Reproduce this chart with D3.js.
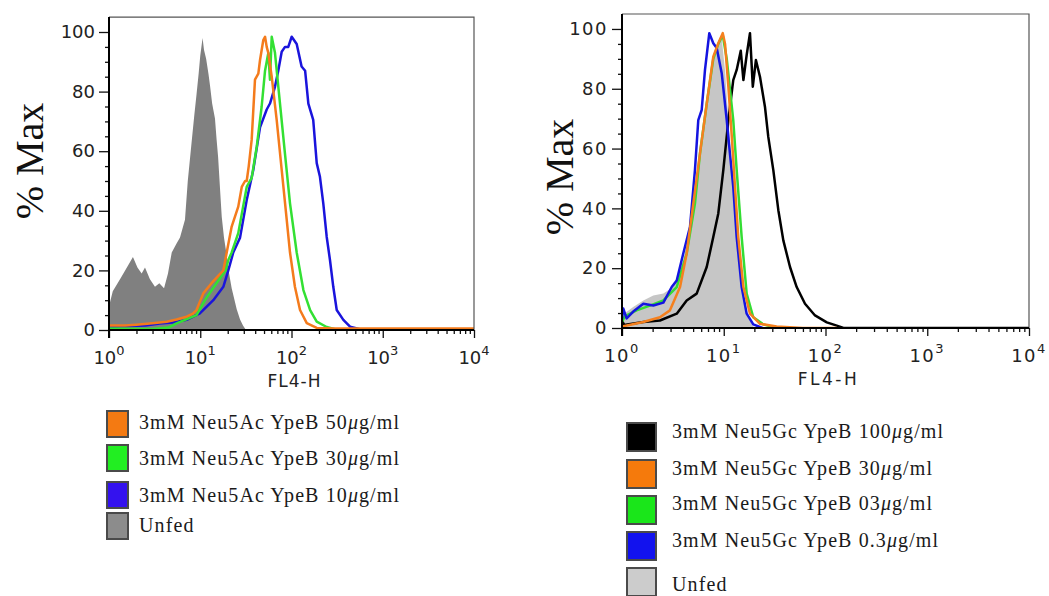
<!DOCTYPE html>
<html>
<head>
<meta charset="utf-8">
<script src="https://cdn.jsdelivr.net/npm/d3@7"></script>
<style>
    body { margin: 0; background: #fff; }
    svg { display: block; }
</style>
</head>
<body>
<svg id="chart" width="1049" height="596"></svg>
<script>
// ---- data ----
const xDecades = [1, 10, 100, 1000, 10000];
const yMajorTicks = [0, 20, 40, 60, 80, 100];
const xAxisTitle = "FL4-H";
const yAxisTitle = "% Max";

// left panel: Neu5Ac (FL4-H value, % Max)
const acUnfed = [[1.0, 8], [1.1, 13], [1.32, 17], [1.57, 21], [1.83, 24.5], [2.05, 21], [2.28, 19], [2.48, 21],
    [2.81, 17], [3.19, 14.5], [3.56, 15.7], [4.01, 14], [4.43, 19], [4.87, 26], [5.5, 29], [6.0, 31], [6.8, 37],
    [7.3, 50], [8.1, 64], [8.6, 72], [9.1, 79], [9.6, 86], [10.0, 92], [10.6, 98], [11.0, 94], [11.6, 91],
    [12.3, 86], [12.8, 82], [13.5, 76], [14.5, 71], [15.1, 64], [15.7, 58], [16.5, 47], [17.2, 38], [18.2, 31],
    [19.5, 25], [20.7, 19], [22.1, 14], [25.1, 7], [27.3, 3.5], [29.4, 1.5], [31.7, 0]];
const ac50 = [[1.0, 1.5], [1.5, 1.5], [2, 1.8], [3, 2.3], [4.3, 2.8], [5.5, 3.5], [7.1, 4.5], [8.3, 5.5], [9.1, 6.7],
    [10.8, 12.3], [13.3, 15.7], [17.9, 20], [19.5, 26], [22.1, 34.7], [26.1, 41.4], [28.5, 48], [31, 50], [32.3, 50],
    [34, 55], [36.6, 63.8], [39.8, 84], [41.5, 85], [43.3, 86], [45.2, 90.6], [49.1, 97.3], [51.3, 98.4], [53.5, 95],
    [55.7, 93], [60.7, 85], [68.8, 70.5], [78.1, 53.7], [88.6, 37], [96.3, 26], [109, 14.5], [124, 6.7], [147, 2.3],
    [189, 0.7], [300, 0.5], [10000, 0.5]];
const ac30 = [[1.0, 0.5], [3, 0.3], [4.5, 0.8], [5.5, 2.2], [9.1, 5], [11.8, 11], [15.1, 15.7], [19, 20], [20.3, 23.5],
    [22.1, 26], [26.1, 32.5], [32.3, 48], [35, 50], [36.6, 51], [41.6, 61.5], [47.1, 75], [51.3, 87], [55.7, 93],
    [58.1, 84], [60.7, 98.4], [65.9, 93], [74.8, 76], [84.9, 59], [96.3, 42.5], [114, 26], [135, 13.4], [160, 6.7],
    [189, 2.8], [243, 1], [320, 0], [600, 0]];
const ac10 = [[1.0, 1], [1.5, 1.3], [2.5, 1.5], [3.6, 2.2], [5, 2.5], [7.1, 3.4], [9.9, 5.6], [13.9, 10], [17.9, 14.5],
    [20.3, 20], [23.0, 26], [27.3, 31], [32.3, 43.6], [38.1, 53.7], [45.2, 68], [53.5, 74], [58.1, 76], [65.9, 81.6],
    [71.6, 87], [78.1, 93.4], [84.9, 95], [92.2, 95], [100.5, 98.4], [114, 96], [129, 88.4], [141, 87], [153, 76],
    [173, 70.5], [189, 56], [205, 51.4], [223, 42.5], [243, 31.3], [264, 23.5], [287, 14.5], [313, 6.7], [370, 3.4],
    [438, 1.1], [608, 0]];

// right panel: Neu5Gc
const gcUnfed = [[1.0, 3], [1.07, 5], [1.29, 7], [1.62, 9.2], [2.03, 10.9], [2.55, 11.5], [3.19, 13.7], [4.0, 22.6],
    [4.84, 36], [5.62, 52.8], [6.54, 69.5], [7.32, 83], [8.2, 92], [8.84, 95], [9.55, 97], [10.3, 86], [11.1, 69.5],
    [12.0, 52.8], [12.9, 36], [13.9, 22.6], [15.6, 10.3], [17.4, 3.6], [19.5, 0.5], [22, 0]];
const gc100 = [[1.0, 2.5], [1.05, 1], [1.62, 2], [2.36, 2.5], [3.45, 4.8], [4.32, 9.2], [5.42, 11.5], [6.8, 20.4],
    [7.89, 30.4], [8.84, 38.3], [9.9, 52.8], [11.1, 69.5], [12.4, 82.9], [13.4, 86.3], [14.7, 92.7], [15.6, 82.9],
    [16.8, 91.3], [18.1, 98.6], [19.3, 80.7], [20.7, 89.6], [22.7, 84], [25.4, 74], [27.4, 63.9], [30.7, 52.8],
    [34.4, 39.4], [38.5, 29.3], [44.8, 20.4], [52.1, 13.7], [62.9, 8.1], [78.9, 4.2], [103, 1.9], [129, 0.8],
    [150, 0], [10000, 0]];
const gc30 = [[1.0, 0.5], [1.62, 2], [2.36, 3.6], [2.96, 5.9], [3.72, 13.7], [4.32, 24.9], [5.02, 41.6], [5.84, 58.4],
    [6.8, 75], [7.89, 90.7], [8.84, 95.2], [9.77, 98.6], [10.3, 95], [11.1, 80.7], [12.0, 63.9], [12.9, 47.2],
    [13.9, 30.4], [15.6, 13.7], [18.1, 4.8], [22.7, 1.4], [33.1, 0.5], [60, 0], [130, 0]];
const gc03 = [[1.0, 2], [1.07, 4], [1.39, 5.9], [1.88, 7.5], [2.55, 9.2], [3.45, 13.7], [4.32, 24.9], [5.21, 41.6],
    [5.84, 58.4], [6.8, 75], [7.89, 90], [8.84, 95], [9.77, 98], [10.7, 90], [11.5, 80], [12.4, 69.5], [13.4, 52.8],
    [15.0, 30.4], [16.8, 11.5], [19.5, 3.6], [24.5, 1.2], [33, 0]];
const gc03b = [[1.0, 3], [1.03, 6.5], [1.11, 3.2], [1.29, 5.5], [1.62, 8.1], [2.03, 7.5], [2.55, 8.5], [3.08, 13.7],
    [3.45, 15.9], [4.0, 24.9], [4.66, 33.8], [5.21, 52.8], [5.62, 69.5], [6.07, 72.9], [6.54, 86.3], [7.21, 98.6],
    [7.89, 95.2], [8.53, 93.6], [9.55, 85.2], [10.7, 69.5], [11.5, 58.4], [12.4, 47.2], [13.4, 30.4], [15.0, 13.7],
    [16.8, 4.8], [19.5, 1.2], [24, 0]];

const acLegend = ["3mM Neu5Ac YpeB 50μg/ml", "3mM Neu5Ac YpeB 30μg/ml", "3mM Neu5Ac YpeB 10μg/ml", "Unfed"];
const gcLegend = ["3mM Neu5Gc YpeB 100μg/ml", "3mM Neu5Gc YpeB 30μg/ml", "3mM Neu5Gc YpeB 03μg/ml",
    "3mM Neu5Gc YpeB 0.3μg/ml", "Unfed"];

// ---- drawing ----
const svg = d3.select("#chart");

const panels = [
    {
        id: "ac", xr: [109, 474], yr: [330, 17.1], spacing: 0,
        titleX: 43, titleY: 161,
        fill: {data: acUnfed, color: "#808080"},
        lines: [
            {data: ac10, color: "#1a14dc"},
            {data: ac30, color: "#33e033"},
            {data: ac50, color: "#f47b1c"}
        ],
        legend: {
            labels: acLegend, colors: ["#f47a12", "#22ee22", "#3412ee", "#8c8c8c"],
            sx: 107, sw: 21, sh: 26, tops: [411, 445, 482, 513], tx: 139, base: [429, 465, 502, 532], spacing: 1.1
        }
    },
    {
        id: "gc", xr: [622, 1029], yr: [328, 14], spacing: 1.5,
        titleX: 573, titleY: 177,
        fill: {data: gcUnfed, color: "#c6c6c6"},
        lines: [
            {data: gc100, color: "#000000"},
            {data: gc03, color: "#33dd33"},
            {data: gc03b, color: "#1414e0"},
            {data: gc30, color: "#f5801e"}
        ],
        legend: {
            labels: gcLegend, colors: ["#000000", "#f57a0c", "#1ae61a", "#1212ee", "#cccccc"],
            sx: 627, sw: 29, sh: 28, tops: [423, 460, 496, 532, 568], tx: 672, base: [438, 475, 510, 547, 591], spacing: 1.1
        }
    }
];

panels.forEach(p => drawPanel(p));

function drawPanel(p) {
    const x = d3.scaleLog().domain([1, 10000]).range(p.xr);
    const y = d3.scaleLinear().domain([0, 105]).range(p.yr);
    const g = svg.append("g");

    g.append("clipPath").attr("id", "clip-" + p.id)
        .append("rect")
        .attr("x", p.xr[0]).attr("y", p.yr[1])
        .attr("width", p.xr[1] - p.xr[0]).attr("height", p.yr[0] - p.yr[1]);

    const plot = g.append("g").attr("clip-path", `url(#clip-${p.id})`);

    const area = d3.area()
        .x(d => x(d[0]))
        .y0(y(0))
        .y1(d => y(d[1]));
    plot.append("path")
        .datum(p.fill.data)
        .attr("d", area)
        .attr("fill", p.fill.color);

    const line = d3.line()
        .x(d => x(d[0]))
        .y(d => y(d[1]));
    p.lines.forEach(s => {
        plot.append("path")
            .datum(s.data)
            .attr("d", line)
            .attr("fill", "none")
            .attr("stroke", s.color)
            .attr("stroke-width", 2.5)
            .attr("stroke-linejoin", "round");
    });

    // frame (top / right)
    g.append("path")
        .attr("d", `M${p.xr[0]},${p.yr[1]}H${p.xr[1]}V${p.yr[0]}`)
        .attr("fill", "none").attr("stroke", "#555").attr("stroke-width", 1.2);

    // y axis: minor every 5, major every 20
    const yMinor = d3.range(0, 101, 5).filter(v => v % 20 !== 0);
    g.append("g").attr("transform", `translate(${p.xr[0]},0)`)
        .call(d3.axisLeft(y).tickValues(yMinor).tickSize(4).tickFormat(""))
        .call(a => a.select(".domain").remove());
    const yAx = g.append("g").attr("transform", `translate(${p.xr[0]},0)`)
        .call(d3.axisLeft(y).tickValues(yMajorTicks).tickSize(10).tickPadding(4))
        .call(a => a.select(".domain").remove());
    yAx.selectAll("text")
        .attr("font-family", "DejaVu Sans, Verdana, sans-serif")
        .attr("font-size", 18)
        .attr("fill", "#222")
        .attr("letter-spacing", p.spacing);

    // x axis: minor 2..9 each decade
    const xMinor = [];
    xDecades.slice(0, -1).forEach(d => d3.range(2, 10).forEach(k => xMinor.push(d * k)));
    g.append("g").attr("transform", `translate(0,${p.yr[0]})`)
        .call(d3.axisBottom(x).tickValues(xMinor).tickSize(4).tickFormat(""))
        .call(a => a.select(".domain").remove());
    g.append("g").attr("transform", `translate(0,${p.yr[0]})`)
        .call(d3.axisBottom(x).tickValues(xDecades).tickSize(8).tickFormat(""))
        .call(a => a.select(".domain").remove());
    g.selectAll(".tick line").attr("stroke", "#111").attr("stroke-width", 1.3);

    const xl = g.append("g").selectAll("text")
        .data(xDecades)
        .join("text")
        .attr("x", d => x(d))
        .attr("y", p.yr[0] + 34)
        .attr("text-anchor", "middle")
        .attr("font-family", "DejaVu Sans, Verdana, sans-serif")
        .attr("font-size", 18)
        .attr("fill", "#222")
        .attr("letter-spacing", p.spacing);
    xl.append("tspan").text("10");
    xl.append("tspan").attr("dy", -9).attr("font-size", 13).text(d => Math.round(Math.log10(d)));

    // axis lines
    g.append("path")
        .attr("d", `M${p.xr[0]},${p.yr[1]}V${p.yr[0] + 8}M${p.xr[0]},${p.yr[0]}H${p.xr[1]}`)
        .attr("fill", "none").attr("stroke", "#000").attr("stroke-width", 2);

    g.append("text")
        .attr("x", (p.xr[0] + p.xr[1]) / 2 + 3)
        .attr("y", p.yr[0] + 57)
        .attr("text-anchor", "middle")
        .attr("font-family", "DejaVu Sans, Verdana, sans-serif")
        .attr("font-size", 17)
        .attr("letter-spacing", 1 + p.spacing)
        .attr("fill", "#222")
        .text(xAxisTitle);

    g.append("text")
        .attr("transform", `translate(${p.titleX},${p.titleY}) rotate(-90)`)
        .attr("text-anchor", "middle")
        .attr("font-family", "Liberation Serif, Times New Roman, serif")
        .attr("font-size", 40)
        .attr("fill", "#111")
        .text(yAxisTitle);

    // legend
    const L = p.legend;
    const rows = g.append("g").selectAll("g")
        .data(L.labels)
        .join("g");
    rows.append("rect")
        .attr("x", L.sx)
        .attr("y", (d, i) => L.tops[i])
        .attr("width", L.sw)
        .attr("height", L.sh)
        .attr("fill", (d, i) => L.colors[i])
        .attr("stroke", "#4a4a4a")
        .attr("stroke-width", 2);
    const lt = rows.append("text")
        .attr("x", L.tx)
        .attr("y", (d, i) => L.base[i])
        .attr("font-family", "Liberation Serif, Times New Roman, serif")
        .attr("font-size", 20)
        .attr("letter-spacing", L.spacing)
        .attr("fill", "#1a1a1a");
    lt.each(function (d) {
        const parts = d.split("μ");
        const t = d3.select(this);
        t.append("tspan").text(parts[0]);
        if (parts.length > 1) {
            t.append("tspan").attr("font-style", "italic").text("μ");
            t.append("tspan").text(parts[1]);
        }
    });
}
</script>
</body>
</html>
